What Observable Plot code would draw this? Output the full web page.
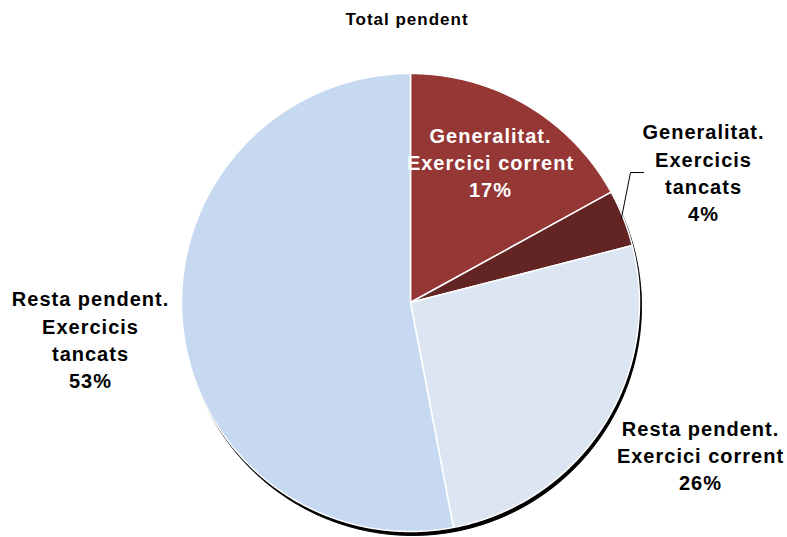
<!DOCTYPE html>
<html>
<head>
<meta charset="utf-8">
<script src="https://cdn.jsdelivr.net/npm/d3@7"></script>
<script src="https://cdn.jsdelivr.net/npm/@observablehq/plot@0.6"></script>
<style>
  html, body { margin: 0; padding: 0; background: #fff; }
  #chart svg { font-family: "Liberation Sans", Arial, sans-serif; }
  #chart svg text { letter-spacing: 1px; }
</style>
</head>
<body>
<div id="chart"></div>
<script>
// ---- data ----
const title = "Total pendent";
const categories = [
  "Generalitat. Exercici corrent",
  "Generalitat. Exercicis tancats",
  "Resta pendent. Exercici corrent",
  "Resta pendent. Exercicis tancats"
];
const values = [17, 4, 26, 53];
const labelTexts = [
  "Generalitat.\nExercici corrent\n17%",
  "Generalitat.\nExercicis\ntancats\n4%",
  "Resta pendent.\nExercici corrent\n26%",
  "Resta pendent.\nExercicis\ntancats\n53%"
];

// ---- styles / layout (not data) ----
const colors = ["#953735", "#632523", "#dce6f2", "#c6d9f0"];
const textColors = ["#ffffff", "#000000", "#000000", "#000000"];
const W = 787, H = 537;
const cx = 410, cy = 302, R = 229;
// label centres in pixels
const labelPos = [[490, 161], [703, 171], [700, 454], [90, 338]];
// leader line elbow & end for the small slice (pixels)
const leaderElbow = [[630, 172], [643, 172]];

const toX = px => (px - cx) / R;
const toY = py => (cy - py) / R;

const arcs = d3.pie().sort(null).value(d => d)(values);

function slicePoints(a, i) {
  const pts = [{x: 0, y: 0, k: i}];
  const n = Math.max(4, Math.ceil((a.endAngle - a.startAngle) / (Math.PI / 720)));
  for (let j = 0; j <= n; j++) {
    const t = a.startAngle + (a.endAngle - a.startAngle) * j / n;
    pts.push({x: Math.sin(t), y: Math.cos(t), k: i});
  }
  pts.push({x: 0, y: 0, k: i});
  return pts;
}

const circle = d3.range(0, 721).map(j => {
  const t = j / 720 * 2 * Math.PI;
  return {x: Math.sin(t), y: Math.cos(t)};
});

const labels = labelTexts.map((t, i) => ({
  text: t, x: toX(labelPos[i][0]), y: toY(labelPos[i][1]), fill: textColors[i]
}));

const mid = (arcs[1].startAngle + arcs[1].endAngle) / 2;
const leader = [
  {x: Math.sin(mid) * 0.99, y: Math.cos(mid) * 0.99},
  ...leaderElbow.map(p => ({x: toX(p[0]), y: toY(p[1])}))
];

const marks = [
  // shadow
  Plot.line(circle, {x: "x", y: "y", fill: "#000", stroke: "#000", strokeWidth: 1, dx: 2, dy: 4}),
  ...arcs.map((a, i) => Plot.line(slicePoints(a, i), {
    x: "x", y: "y", fill: colors[i], stroke: "#fff", strokeWidth: 1.5, strokeLinejoin: "miter"
  })),
  Plot.line(leader, {x: "x", y: "y", stroke: "#000", strokeWidth: 1, curve: "linear"}),
  Plot.text(labels, {
    x: "x", y: "y", text: "text", fill: "fill",
    fontSize: 20, fontWeight: "bold", lineHeight: 1.36, textAnchor: "middle", lineAnchor: "middle"
  }),
  Plot.text([title], {
    frameAnchor: "top", text: d => d, dy: 19, lineAnchor: "middle",
    fontSize: 17, fontWeight: "bold", fill: "#000", dx: 13
  })
];

const chart = Plot.plot({
  width: W, height: H,
  margin: 0,
  x: {domain: [-1, 1], range: [cx - R, cx + R], axis: null},
  y: {domain: [-1, 1], range: [cy + R, cy - R], axis: null},
  color: {type: "identity"},
  style: {background: "#fff", overflow: "visible"},
  marks
});
document.getElementById("chart").appendChild(chart);
</script>
</body>
</html>
